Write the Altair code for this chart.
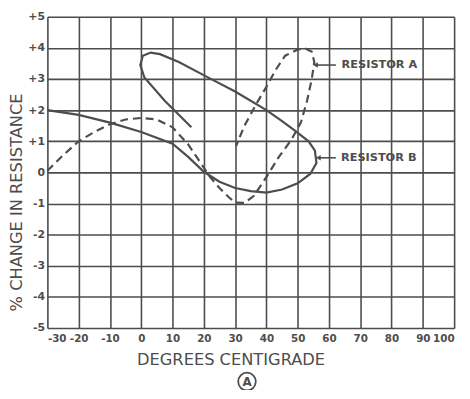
import altair as alt
import pandas as pd

# Resistor A (dashed) — temperature (°C) and % change in resistance, in drawing order
a_temp = [-30, -25, -20, -15, -10, -5, 0, 5, 10, 15, 20, 22, 25, 28, 30, 33, 36, 40, 44, 48,
          51, 53, 54.5, 55.3, 54.5, 52.5, 50, 46, 43, 40, 36.7, 33, 30.3]
a_pct = [0.05, 0.55, 1.0, 1.3, 1.55, 1.7, 1.75, 1.7, 1.45, 0.9, 0.15, -0.15, -0.5, -0.8, -0.97,
         -0.98, -0.75, -0.15, 0.5, 1.05, 1.6, 2.3, 3.0, 3.55, 3.88, 3.98, 3.95, 3.75, 3.3, 2.75,
         2.19, 1.5, 0.85]

# Resistor B (solid)
b_temp = [-30, -20, -10, 0, 10, 15, 20, 25, 30, 35, 40, 45, 50, 54, 56, 55.5, 53.5, 49, 45,
          40, 30, 21, 12, 6, 3, 0.5, -0.3, 1, 7.5, 12, 16]
b_pct = [2.0, 1.85, 1.6, 1.3, 0.92, 0.5, 0.02, -0.3, -0.5, -0.6, -0.65, -0.55, -0.35, -0.05,
         0.3, 0.7, 1.0, 1.35, 1.65, 2.0, 2.6, 3.07, 3.55, 3.8, 3.85, 3.75, 3.45, 3.05, 2.3, 1.85,
         1.45]

x_ticks = [-30, -20, -10, 0, 10, 20, 30, 40, 50, 60, 70, 80, 90, 100]
y_ticks = [-5, -4, -3, -2, -1, 0, 1, 2, 3, 4, 5]

labels = ["RESISTOR A", "RESISTOR B"]
label_temp = [63.4, 63.2]
label_pct = [3.45, 0.47]
arrow_start = [55.7, 56.6]
arrow_end = [62.2, 62.2]

ink = "#4d4d4d"
font = "DejaVu Sans"

df_a = pd.DataFrame({"t": a_temp, "p": a_pct, "o": range(len(a_temp))})
df_b = pd.DataFrame({"t": b_temp, "p": b_pct, "o": range(len(b_temp))})
df_lab = pd.DataFrame({"t": label_temp, "p": label_pct, "label": labels,
                       "x1": arrow_start, "x2": arrow_end})

xs = alt.Scale(domain=[-30, 100], nice=False, zero=False)
ys = alt.Scale(domain=[-5, 5], nice=False, zero=False)

x_axis = alt.Axis(values=x_ticks, grid=True, gridColor=ink, gridWidth=1.6, gridOpacity=1,
                  ticks=False, domain=False, labelFont=font, labelFontWeight="bold",
                  labelFontSize=10.5, labelColor=ink, labelPadding=6, labelOverlap=False,
                  labelExpr="'' + datum.value",
                  title="DEGREES CENTIGRADE", titleFont=font, titleFontSize=16.5,
                  titleFontWeight="normal", titleColor=ink, titleX=186, titleY=32,
                  titleBaseline="middle", titleAnchor="middle")
y_axis = alt.Axis(values=y_ticks, grid=True, gridColor=ink, gridWidth=1.6, gridOpacity=1,
                  ticks=False, domain=False, labelFont=font, labelFontWeight="bold",
                  labelFontSize=11, labelColor=ink, labelPadding=3, labelOverlap=False,
                  labelExpr="datum.value > 0 ? '+' + datum.value : '' + datum.value",
                  title="% CHANGE IN RESISTANCE", titleFont=font, titleFontSize=16.5,
                  titleFontWeight="normal", titleColor=ink, titleX=-31, titleY=188,
                  titleBaseline="middle", titleAnchor="middle")


def X(field):
    return alt.X(field, type="quantitative", scale=xs, axis=x_axis)


def Y(field):
    return alt.Y(field, type="quantitative", scale=ys, axis=y_axis)


line_a = alt.Chart(df_a).mark_line(color=ink, strokeWidth=2.2, strokeDash=[8, 5]).encode(
    x=X("t"), y=Y("p"), order="o:Q",
)
line_b = alt.Chart(df_b).mark_line(color=ink, strokeWidth=2.2).encode(
    x=X("t"), y=Y("p"), order="o:Q",
)
leaders = alt.Chart(df_lab).mark_rule(color=ink, strokeWidth=1.6).encode(
    x=X("x1"), x2="x2:Q", y=Y("p")
)
heads = alt.Chart(df_lab).mark_point(shape="triangle-left", filled=True, color=ink,
                                     size=30, opacity=1).encode(
    x=X("x1"), y=Y("p")
)
texts = alt.Chart(df_lab).mark_text(align="left", baseline="middle", font=font,
                                    fontWeight="bold", fontSize=11.5, color=ink, dx=2).encode(
    x=X("t"), y=Y("p"), text="label:N"
)

df_badge = pd.DataFrame({"t": [33.8], "p": [-6.72], "label": ["A"]})
badge_ring = alt.Chart(df_badge).mark_point(shape="circle", size=320, color=ink,
                                            strokeWidth=1.8, opacity=1).encode(
    x=X("t"), y=Y("p")
)
badge_text = alt.Chart(df_badge).mark_text(font=font, fontSize=12, fontWeight="bold",
                                           color=ink, baseline="middle", dy=0.5).encode(
    x=X("t"), y=Y("p"), text="label:N"
)

chart = alt.layer(line_a, line_b, leaders, heads, texts, badge_ring, badge_text).properties(
    width=413, height=316,
    autosize=alt.AutoSizeParams(type="none"),
    padding={"left": 40, "top": 6, "right": 8, "bottom": 60},
).configure_view(stroke=ink, strokeWidth=2).configure(background="white")

chart.save("out.html", embed_options={"renderer": "svg", "actions": False})
